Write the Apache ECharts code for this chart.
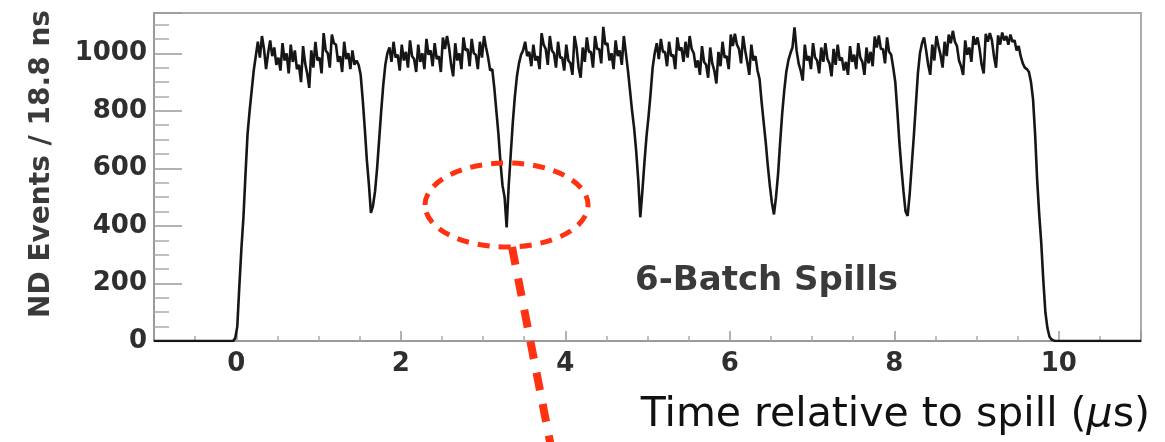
<!DOCTYPE html>
<html>
<head>
<meta charset="utf-8">
<title>ND events vs time relative to spill</title>
<script src="https://cdn.jsdelivr.net/npm/echarts@6/dist/echarts.min.js"></script>
<style>
  html, body { margin: 0; padding: 0; background: #ffffff; }
  #chart { width: 1165px; height: 442px; }
</style>
</head>
<body>
<div id="chart"></div>
<script>
// Histogram binning (microseconds)
const binStartUs = -1;
const binWidthUs = 0.025;

// Events per bin, from -1 us to 11 us (480 bins)
const eventsPerBin = [
  // before the spill (-1 .. 0)
  0, 0, 0, 0, 0, 0, 0, 0, 0, 0, 0, 0, 0, 0, 0, 0, 0, 0, 0, 0,
  0, 0, 0, 0, 0, 0, 0, 0, 0, 0, 0, 0, 0, 0, 0, 0, 0, 0, 0, 10,
  // rising edge (0 .. 0.25)
  50, 190, 320, 430, 580, 720, 800, 870, 940, 990,
  // batch 1 (0.25 .. 1.45)
  1040, 985, 1060, 1015, 945, 1000, 1045, 990, 1020, 960, 985, 940,
  1035, 975, 1000, 930, 1030, 970, 1010, 945, 960, 900, 1025, 965,
  930, 880, 1010, 950, 1040, 975, 985, 930, 1070, 1010, 1000, 950,
  1065, 1035, 1030, 970, 990, 935, 1040, 980, 1000, 945, 1010, 960,
  // gap 1 (1.45 .. 1.85)
  975, 960, 925, 840, 740, 630, 545, 445, 470, 520, 600, 700, 800, 890, 960, 1000,
  // batch 2 (1.85 .. 3.1)
  1020, 970, 1040, 985, 995, 940, 1030, 975, 1005, 950, 1045, 990, 980,
  935, 1030, 970, 1000, 945, 1050, 995, 1010, 955, 1035, 980, 990, 935,
  1055, 1015, 1060, 1020, 960, 920, 1035, 975, 1000, 945, 1055, 1010,
  1015, 955, 1050, 1000, 995, 945, 1040, 985, 1060, 1020, 985, 940,
  // gap 2 (3.1 .. 3.5)
  945, 880, 800, 720, 620, 540, 500, 395, 540, 650, 760, 850, 920, 965, 995, 1010,
  // batch 3 (3.5 .. 4.75)
  1040, 990, 1005, 955, 1030, 975, 990, 945, 1070, 1030, 1015, 960, 1060,
  1010, 1000, 950, 1040, 985, 985, 940, 1030, 975, 965, 925, 1060, 1020,
  950, 915, 1020, 970, 1055, 1005, 1005, 950, 1060, 1015, 1015, 965,
  1092, 1030, 1035, 975, 1000, 945, 1045, 990, 1010, 960, 1060, 1000,
  // gap 3 (4.75 .. 5.1)
  940, 870, 800, 740, 660, 560, 430, 520, 620, 710, 780, 860, 950, 1000,
  // batch 4 (5.1 .. 6.35)
  1035, 980, 1050, 1005, 1005, 955, 1040, 990, 995, 945, 1055, 1010, 1020,
  970, 1040, 985, 1060, 1015, 1000, 950, 975, 925, 1025, 970, 960, 915,
  1020, 965, 940, 895, 1005, 955, 1040, 985, 990, 945, 1065, 1025,
  1068, 1030, 1015, 965, 1060, 1010, 970, 925, 1030, 975, 990, 940,
  // gap 4 (6.35 .. 6.75)
  910, 830, 760, 690, 610, 540, 480, 440, 500, 580, 690, 790, 870, 935, 975, 1000,
  // batch 5 (6.75 .. 8.0)
  1020, 1090, 1010, 965, 940, 905, 1030, 975, 990, 945, 1035, 985, 975,
  930, 1020, 970, 1035, 980, 965, 920, 1015, 960, 1030, 975, 985, 940,
  970, 925, 1025, 970, 995, 945, 1035, 985, 970, 925, 1020, 965,
  1005, 955, 1058, 1020, 1062, 1015, 1015, 965, 1055, 1005, 995, 950,
  // gap 5 (8.0 .. 8.35)
  900, 800, 690, 600, 520, 450, 435, 510, 610, 710, 820, 930, 1000, 1035,
  // batch 6 (8.35 .. 9.6)
  1055, 1010, 960, 925, 1030, 975, 1060, 1025, 995, 950, 1040, 990, 1065,
  1035, 1078, 1040, 1025, 975, 955, 925, 1045, 995, 1020, 970, 1060, 1030,
  1055, 1015, 960, 930, 1068, 1040, 1070, 1045, 990, 950, 1062, 1030,
  1072, 1045, 1060, 1030, 1065, 1040, 1045, 1010, 1025, 990, 965, 950,
  // falling edge (9.6 .. 9.95)
  945, 935, 900, 840, 720, 560, 440, 340, 210, 100, 45, 15, 5, 2,
  // after the spill (9.95 .. 11)
  0, 0, 0, 0, 0, 0, 0, 0, 0, 0, 0, 0, 0, 0, 0, 0, 0, 0, 0, 0, 0,
  0, 0, 0, 0, 0, 0, 0, 0, 0, 0, 0, 0, 0, 0, 0, 0, 0, 0, 0, 0, 0
];

// Axis ranges and tick spacing
const xRange = [-1, 11];
const yRange = [0, 1140];
const yTickStep = 200;

// Text
const yTitle = 'ND Events / 18.8 ns';
const xTitleParts = ['Time relative to spill (', 'μ', 's)'];
const panelLabel = '6-Batch Spills';

// Histogram drawn through the bin centres, padded to the axis ends
const histPoints = eventsPerBin.map((v, i) => [binStartUs + (i + 0.5) * binWidthUs, v]);
histPoints.unshift([xRange[0], eventsPerBin[0]]);
histPoints.push([xRange[1], eventsPerBin[eventsPerBin.length - 1]]);

const FONT = '"DejaVu Sans", "Liberation Sans", sans-serif';
const AXIS_GREY = '#9a9a9a';
const ANNOT_RED = '#ff3212';

const chart = echarts.init(document.getElementById('chart'), null, { renderer: 'canvas' });

chart.setOption({
  animation: false,
  backgroundColor: '#ffffff',
  grid: {
    left: 154, right: 24, top: 13, bottom: 101,
    show: true, borderColor: '#ababab', borderWidth: 2,
    backgroundColor: 'transparent'
  },
  xAxis: {
    type: 'value',
    min: xRange[0], max: xRange[1],
    splitNumber: 6,
    axisLine: { onZero: false, lineStyle: { color: AXIS_GREY, width: 2 } },
    axisTick: { inside: true, length: 10, lineStyle: { color: AXIS_GREY, width: 1.5 } },
    minorTick: { show: true, splitNumber: 4, length: 5, lineStyle: { color: '#ababab', width: 1.5 } },
    axisLabel: {
      showMinLabel: false, showMaxLabel: false,
      margin: 10, fontFamily: FONT, fontWeight: 'bold', fontSize: 26, color: '#2e2e2e',
      formatter: v => String(v)
    },
    splitLine: { show: false }
  },
  yAxis: {
    type: 'value',
    min: yRange[0], max: yRange[1], interval: yTickStep,
    axisLine: { show: true, onZero: false, lineStyle: { color: AXIS_GREY, width: 2 } },
    axisTick: { show: true, inside: true, length: 28, lineStyle: { color: AXIS_GREY, width: 1.5 } },
    minorTick: { show: true, splitNumber: 4, length: 15, lineStyle: { color: '#ababab', width: 1.5 } },
    axisLabel: {
      showMaxLabel: false,
      margin: 7, fontFamily: FONT, fontWeight: 'bold', fontSize: 26, color: '#2e2e2e',
      formatter: v => String(v)
    },
    splitLine: { show: false }
  },
  series: [{
    type: 'line',
    data: histPoints,
    symbol: 'none',
    showSymbol: false,
    clip: true,
    lineStyle: { color: '#161616', width: 2.6 },
    z: 5
  }],
  graphic: [
    {
      type: 'text', x: 42, y: 10, rotation: Math.PI / 2, z: 20,
      style: {
        text: yTitle, fontFamily: FONT, fontWeight: 'bold', fontSize: 28, fill: '#3a3a3a',
        align: 'right', verticalAlign: 'middle', textAlign: 'right', textVerticalAlign: 'middle'
      }
    },
    {
      type: 'text', x: 1150, y: 415, z: 20,
      style: {
        text: '{n|' + xTitleParts[0] + '}{m|' + xTitleParts[1] + '}{n|' + xTitleParts[2] + '}',
        fill: '#111111', fontFamily: FONT, fontSize: 41,
        rich: {
          n: { fontFamily: FONT, fontSize: 41, fill: '#111111' },
          m: { fontFamily: FONT, fontSize: 41, fontStyle: 'italic', fill: '#111111' }
        },
        align: 'right', verticalAlign: 'middle', textAlign: 'right', textVerticalAlign: 'middle'
      }
    },
    {
      type: 'text', x: 635, y: 281, z: 20,
      style: {
        text: panelLabel, fontFamily: FONT, fontWeight: 'bold', fontSize: 34, fill: '#3a3a3a',
        align: 'left', verticalAlign: 'middle', textAlign: 'left', textVerticalAlign: 'middle'
      }
    },
    {
      type: 'ellipse', z: 30,
      shape: { cx: 506.5, cy: 205, rx: 81.5, ry: 42 },
      style: { fill: 'none', stroke: ANNOT_RED, lineWidth: 5, lineDash: [12, 9] }
    },
    {
      type: 'line', z: 30,
      shape: { x1: 512, y1: 247, x2: 552, y2: 452 },
      style: { stroke: ANNOT_RED, lineWidth: 8, lineDash: [18, 14] }
    }
  ]
});
</script>
</body>
</html>
